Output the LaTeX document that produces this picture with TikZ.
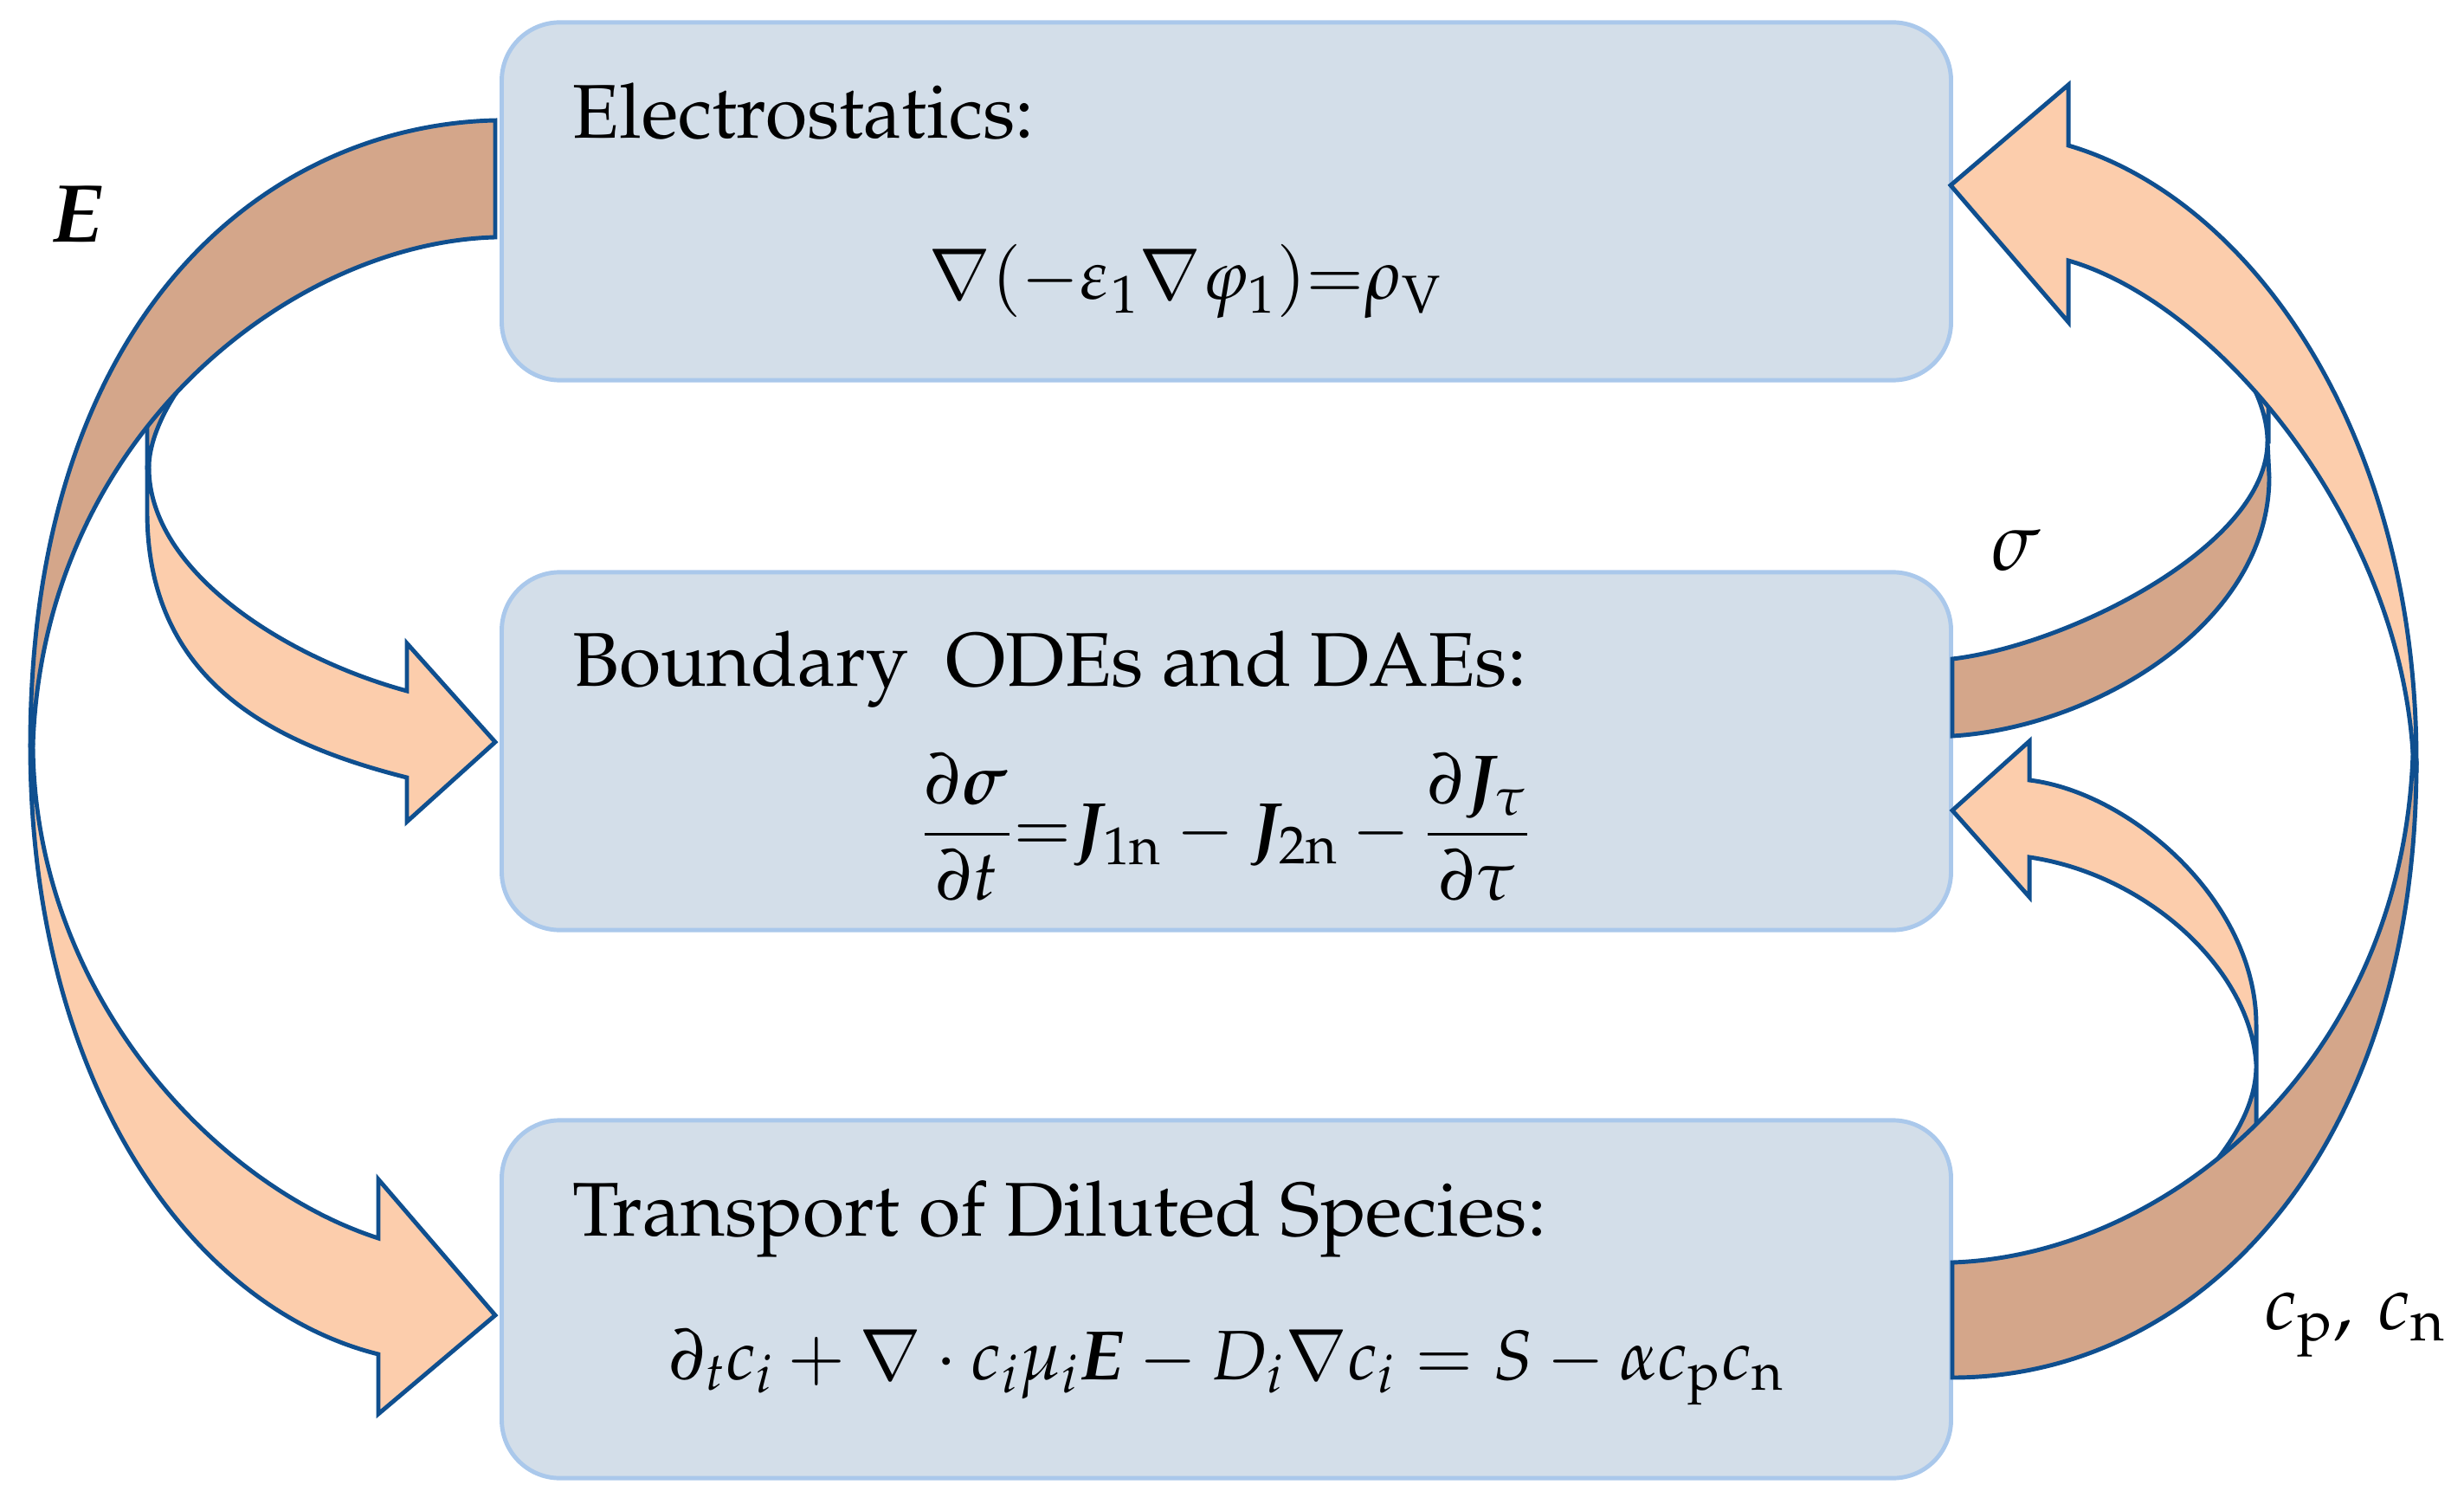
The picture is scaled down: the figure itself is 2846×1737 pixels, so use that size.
\documentclass[tikz,border=0pt]{standalone}
\usepackage[T1]{fontenc}
\usepackage{mathpazo}
\usepackage{bm}
\usepackage{tikz}

\definecolor{boxfill}{HTML}{D3DEE9}
\definecolor{boxline}{HTML}{AAC8EB}
\definecolor{backcol}{HTML}{D4A68A}
\definecolor{frontcol}{HTML}{FCCDAC}
\definecolor{edgecol}{HTML}{0F4F8F}

\begin{document}
\begin{tikzpicture}[x=0.01cm,y=-0.01cm]
\tikzstyle{box}=[rectangle,rounded corners=0.67cm,draw=boxline,fill=boxfill,line width=1.4pt,minimum width=16.73cm,minimum height=4.13cm]
\tikzstyle{title}=[anchor=base west,inner sep=0pt,font=\fontsize{25}{30}\selectfont]
\tikzstyle{eqn}=[inner sep=0pt,font=\fontsize{23}{28}\selectfont]
\tikzstyle{lab}=[inner sep=0pt,font=\fontsize{27}{32}\selectfont]
\tikzstyle{back}=[fill=backcol,draw=edgecol,line width=1.4pt]
\tikzstyle{front}=[fill=frontcol,draw=edgecol,line width=1.4pt]
\useasboundingbox (0,0) rectangle (2846,1737);
\node [box] (elec) at (1416.5,232.5) {};
\node [box] (bnd) at (1416.5,867.5) {};
\node [box] (trans) at (1416.5,1500.5) {};
\node [title] (elect) at (661,160) {Electrostatics:};
\node [eqn,anchor=base] (elece) at (1369,346) {$\nabla(-\varepsilon_1\nabla\varphi_1){=}\rho_{\mathrm{V}}$};
\node [title] (bndt) at (661,792) {Boundary\ \ ODEs and DAEs:};
\node [eqn] (bnde) at (1416,955) {$\displaystyle\frac{\partial\bm{\sigma}}{\partial t}{=}\bm{J}_{1\mathrm{n}}-\bm{J}_{2\mathrm{n}}-\frac{\partial\bm{J}_{\tau}}{\partial\tau}$};
\node [title] (transt) at (661,1427) {Transport of Diluted Species:};
\node [eqn,anchor=base] (transe) at (1417,1593) {$\partial_t c_i+\nabla\cdot c_i\mu_i\bm{E}-D_i\nabla c_i=S-\alpha c_{\mathrm{p}}c_{\mathrm{n}}$};
\draw [front] (170,540) -- (170,591) .. controls (170,790) and (320,860) .. (470,898) -- (470,949) -- (572,857) -- (470,743) -- (470,798) .. controls (330,760) and (172,660) .. (172,540) -- cycle;
\draw [back] (170,540) -- (170,450) -- (240,400) -- (225,425) .. controls (195,460) and (172,505) .. (172,540) -- cycle;
\draw [front] (35,861) .. controls (35,1250) and (220,1510) .. (437,1564) -- (437,1633) -- (572,1519) -- (437,1362) -- (437,1430) .. controls (250,1370) and (40,1150) .. (38,861) -- cycle;
\draw [back] (572,139) .. controls (310,145) and (35,360) .. (35,861) -- (38,861) .. controls (50,500) and (340,280) .. (572,274) -- cycle;
\draw [front] (2620,510) -- (2620,400) -- (2590,370) -- (2565,390) .. controls (2595,425) and (2619,470) .. (2619,510) -- cycle;
\draw [back] (2255,761) .. controls (2390,745) and (2619,630) .. (2619,510) -- (2621,551) .. controls (2621,720) and (2420,840) .. (2255,850) -- cycle;
\draw [front] (2606,1230) -- (2606,1184) .. controls (2606,1040) and (2460,915) .. (2344,901) -- (2344,856) -- (2255,936) -- (2344,1036) -- (2344,990) .. controls (2480,1010) and (2600,1120) .. (2606,1230) -- cycle;
\draw [back] (2606,1230) -- (2606,1340) -- (2560,1400) -- (2520,1385) .. controls (2575,1330) and (2606,1280) .. (2606,1230) -- cycle;
\draw [front] (2791,880) .. controls (2791,500) and (2600,230) .. (2389,168) -- (2389,98) -- (2253,214) -- (2389,372) -- (2389,301) .. controls (2560,350) and (2770,600) .. (2787,870) -- cycle;
\draw [back] (2255,1591) .. controls (2540,1591) and (2791,1330) .. (2791,880) -- (2787,870) .. controls (2775,1230) and (2500,1450) .. (2255,1458) -- cycle;
\node [lab] (elab) at (89,247) {$\bm{E}$};
\node [lab] (slab) at (2328,636) {$\sigma$};
\node [lab,font=\fontsize{25}{30}\selectfont] (clab) at (2720,1530) {$c_{\mathrm{p}}$,\,\,$c_{\mathrm{n}}$};
\end{tikzpicture}
\end{document}
